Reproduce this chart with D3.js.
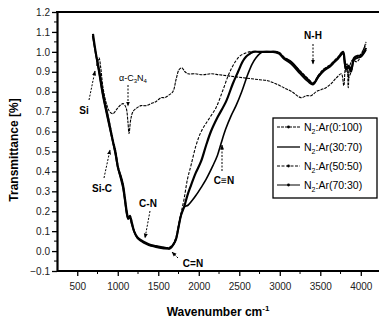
<!DOCTYPE html>
<html><head><meta charset="utf-8">
<script src="https://cdn.jsdelivr.net/npm/d3@7/dist/d3.min.js"></script>
<style>
body{margin:0;background:#fff;}
svg{display:block;font-family:"Liberation Sans",Arial,sans-serif;}
</style></head>
<body><svg id="c" width="379" height="322"></svg>
<script>
// ---- data: [wavenumber cm^-1, transmittance] ----
const s0_100 = [[740,0.93],[769,0.97],[790,0.92],[818,0.82],[860,0.74],[900,0.70],[940,0.69],[1003,0.72],[1065,0.74],[1102,0.72],[1125,0.65],[1139,0.59],[1160,0.66],[1188,0.70],[1240,0.72],[1287,0.73],[1350,0.73],[1410,0.74],[1470,0.75],[1534,0.77],[1580,0.77],[1620,0.78],[1680,0.80],[1719,0.86],[1756,0.91],[1790,0.92],[1830,0.90],[1870,0.89],[1950,0.89],[2050,0.885],[2150,0.89],[2250,0.885],[2350,0.88],[2450,0.875],[2550,0.87],[2650,0.865],[2750,0.86],[2850,0.855],[2950,0.84],[3050,0.82],[3150,0.80],[3262,0.77],[3330,0.78],[3386,0.78],[3450,0.80],[3509,0.81],[3570,0.82],[3633,0.84],[3700,0.87],[3760,0.89],[3790,0.83],[3810,0.92],[3830,0.94],[3845,0.82],[3865,0.93],[3900,0.96],[3950,0.95],[4003,0.98],[4040,1.02],[4065,1.05]];
const s30_70 = [[694,1.09],[731,0.99],[769,0.91],[818,0.79],[880,0.67],[941,0.55],[970,0.50],[1003,0.42],[1040,0.37],[1065,0.33],[1090,0.26],[1110,0.20],[1130,0.165],[1150,0.175],[1170,0.15],[1201,0.10],[1240,0.07],[1287,0.055],[1350,0.04],[1410,0.03],[1470,0.025],[1534,0.02],[1600,0.015],[1645,0.015],[1690,0.035],[1719,0.06],[1750,0.12],[1781,0.18],[1818,0.22],[1860,0.28],[1904,0.33],[1960,0.39],[2028,0.45],[2090,0.53],[2150,0.60],[2230,0.67],[2336,0.75],[2420,0.84],[2485,0.90],[2540,0.95],[2583,0.975],[2630,0.99],[2670,1.0],[2750,1.0],[2850,1.0],[2950,1.0],[2990,0.995],[3050,0.97],[3139,0.95],[3250,0.90],[3350,0.86],[3410,0.84],[3480,0.88],[3546,0.91],[3620,0.93],[3670,0.95],[3720,0.97],[3781,1.0],[3800,0.96],[3818,0.92],[3850,0.93],[3880,0.91],[3917,0.97],[3960,0.98],[4003,0.98],[4040,1.0],[4065,1.02]];
const s50_50 = [[700,1.07],[735,0.98],[775,0.90],[825,0.78],[885,0.67],[945,0.55],[975,0.50],[1008,0.42],[1045,0.37],[1068,0.33],[1092,0.26],[1112,0.20],[1132,0.17],[1152,0.18],[1172,0.15],[1205,0.10],[1245,0.07],[1290,0.05],[1350,0.04],[1410,0.03],[1470,0.025],[1534,0.02],[1600,0.015],[1645,0.02],[1690,0.04],[1719,0.07],[1750,0.13],[1781,0.19],[1818,0.26],[1860,0.36],[1904,0.43],[1966,0.53],[2030,0.60],[2120,0.66],[2213,0.72],[2300,0.81],[2373,0.89],[2450,0.95],[2510,0.98],[2558,0.99],[2620,1.0],[2750,1.0],[2900,1.0],[2980,1.0],[3050,0.975],[3139,0.95],[3250,0.905],[3350,0.865],[3410,0.845],[3480,0.885],[3546,0.915],[3620,0.935],[3670,0.955],[3720,0.975],[3781,1.0],[3800,0.95],[3818,0.90],[3835,0.93],[3850,0.87],[3880,0.90],[3917,0.96],[3960,0.97],[4003,0.99],[4065,1.04]];
const s70_30 = [[690,1.08],[728,0.99],[766,0.90],[815,0.78],[877,0.66],[938,0.55],[968,0.49],[1000,0.42],[1038,0.36],[1062,0.32],[1088,0.25],[1108,0.19],[1128,0.16],[1148,0.17],[1168,0.14],[1200,0.10],[1240,0.065],[1287,0.05],[1350,0.035],[1410,0.025],[1470,0.02],[1534,0.015],[1600,0.012],[1645,0.012],[1690,0.035],[1719,0.06],[1750,0.12],[1781,0.18],[1818,0.22],[1867,0.23],[1920,0.255],[1966,0.28],[2030,0.32],[2090,0.36],[2176,0.43],[2230,0.48],[2275,0.54],[2330,0.61],[2400,0.68],[2460,0.73],[2530,0.80],[2608,0.89],[2660,0.94],[2707,0.97],[2750,0.99],[2793,1.0],[2900,1.0],[2990,0.99],[3050,0.965],[3139,0.94],[3250,0.89],[3350,0.85],[3410,0.835],[3480,0.875],[3546,0.905],[3620,0.925],[3670,0.945],[3720,0.965],[3781,0.99],[3800,0.94],[3818,0.91],[3850,0.92],[3880,0.90],[3917,0.96],[3960,0.97],[4003,0.975],[4065,1.01]];
const seriesNames = ["0:100","30:70","50:50","70:30"];
const xTicks = [500,1000,1500,2000,2500,3000,3500,4000];
const yTicks = [-0.1,0,0.1,0.2,0.3,0.4,0.5,0.6,0.7,0.8,0.9,1.0,1.1,1.2];

const svg = d3.select("#c");
const x = d3.scaleLinear().domain([250,4200]).range([57,377]);
const y = d3.scaleLinear().domain([-0.1,1.2]).range([271,12]);

svg.append("defs").append("marker").attr("id","ah").attr("viewBox","0 0 10 10")
  .attr("refX",9).attr("refY",5).attr("markerWidth",5).attr("markerHeight",5)
  .attr("orient","auto").append("path").attr("d","M0,1L10,5L0,9Z").attr("fill","#000");

// minor ticks
const xMinor = d3.range(750,4200,500);
const yMinor = d3.range(-0.05,1.2,0.1);
svg.append("g").selectAll("line").data(xMinor).join("line")
  .attr("x1",d=>x(d)).attr("x2",d=>x(d)).attr("y1",271).attr("y2",274).attr("stroke","#000").attr("stroke-width",1);
svg.append("g").selectAll("line").data(yMinor).join("line")
  .attr("y1",d=>y(d)).attr("y2",d=>y(d)).attr("x1",57).attr("x2",54).attr("stroke","#000").attr("stroke-width",1);

const gx = svg.append("g").attr("transform","translate(0,271)")
  .call(d3.axisBottom(x).tickValues(xTicks).tickSize(5).tickSizeOuter(0).tickFormat(d3.format("d")));
const gy = svg.append("g").attr("transform","translate(57,0)")
  .call(d3.axisLeft(y).tickValues(yTicks).tickSize(5).tickSizeOuter(0).tickFormat(d3.format(".1f")));
[gx,gy].forEach(g=>{
  g.select(".domain").attr("stroke-width",2.2);
  g.selectAll(".tick line").attr("stroke-width",1.3);
  g.selectAll("text").attr("font-size",10).attr("fill","#222").style("font-family","Liberation Sans, Arial, sans-serif");
});
gx.selectAll("text").attr("dy","1.1em");
gy.selectAll("text").attr("x",-7);
gx.select(".domain").attr("d","M57,0H379");
// top border
svg.append("line").attr("x1",56).attr("x2",379).attr("y1",y(1.2)).attr("y2",y(1.2)).attr("stroke","#000").attr("stroke-width",2.2);

// lines
const line = d3.line().x(d=>x(d[0])).y(d=>y(d[1])).curve(d3.curveCatmullRom.alpha(0.5));
const styles = [
  {data:s0_100, w:1.1, dash:"3,1"},
  {data:s30_70, w:2.2, dash:null},
  {data:s50_50, w:1.1, dash:"3,1.5"},
  {data:s70_30, w:1.6, dash:null}
];
styles.forEach(s=>{
  svg.append("path").attr("d",line(s.data)).attr("fill","none").attr("stroke","#000")
    .attr("stroke-width",s.w).attr("stroke-dasharray",s.dash).attr("stroke-linejoin","round");
});

// annotations
function arrow(x1,y1,x2,y2){
  svg.append("line").attr("x1",x1).attr("y1",y1).attr("x2",x2).attr("y2",y2)
    .attr("stroke","#000").attr("stroke-width",1).attr("stroke-dasharray","2,1.5").attr("marker-end","url(#ah)");
}
function label(tx,ty,txt){
  return svg.append("text").attr("x",tx).attr("y",ty).attr("font-size",10).attr("font-weight","bold")
    .attr("text-anchor","middle").text(txt);
}
label(84,114,"Si"); arrow(89,100,95,71);
const ac = svg.append("text").attr("x",133).attr("y",81).attr("font-size",9).attr("text-anchor","middle");
ac.append("tspan").text("α-C");
ac.append("tspan").attr("font-size",6).attr("dy",2).text("3");
ac.append("tspan").attr("dy",-2).text("N");
ac.append("tspan").attr("font-size",6).attr("dy",2).text("4");
arrow(128,85,128,106);
label(102,192,"Si-C"); arrow(104,178,110,150);
label(148,207,"C-N"); arrow(150,211,145,238);
label(193,267,"C=N"); arrow(178,258,172,252);
label(224,184,"C≡N"); arrow(222,171,222,145);
label(313,39,"N-H"); arrow(313,44,313,64);

// legend
const lg = svg.append("g");
lg.append("rect").attr("x",273).attr("y",118).attr("width",104).attr("height",80)
  .attr("fill","#fff").attr("stroke","#000").attr("stroke-width",1.3);
const rowsY = [127,147,166,185];
styles.forEach((s,i)=>{
  const yy = rowsY[i];
  lg.append("line").attr("x1",277).attr("x2",300).attr("y1",yy).attr("y2",yy).attr("stroke","#000")
    .attr("stroke-width",i===1?1.3:1).attr("stroke-dasharray",s.dash);
  if(i!==1) lg.append("circle").attr("cx",288.5).attr("cy",yy).attr("r",1.4).attr("fill","#000");
  const t = lg.append("text").attr("x",304).attr("y",yy+4).attr("font-size",10.5);
  t.append("tspan").text("N");
  t.append("tspan").attr("font-size",7).attr("dy",3).text("2");
  t.append("tspan").attr("dy",-3).text(":Ar(" + seriesNames[i] + ")");
});

// axis titles
svg.append("text").attr("transform","translate(18,150) rotate(-90)").attr("text-anchor","middle")
  .attr("font-size",12).attr("font-weight","bold").text("Transmittance [%]");
const xt = svg.append("text").attr("x",218).attr("y",316).attr("text-anchor","middle")
  .attr("font-size",12).attr("font-weight","bold");
xt.append("tspan").text("Wavenumber cm");
xt.append("tspan").attr("font-size",8).attr("dy",-5).text("-1");
</script></body></html>
